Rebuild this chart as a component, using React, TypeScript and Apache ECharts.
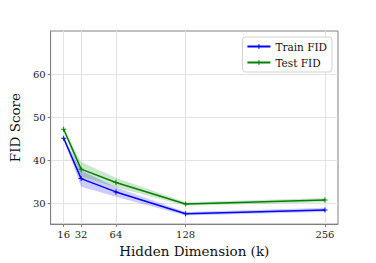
import React, { useEffect, useRef } from "react";
import * as echarts from "echarts";

const dims = [16, 32, 64, 128, 256];
const trainFid = [45.1, 35.7, 32.6, 27.5, 28.4];
const trainLo = [44.8, 33.8, 31.5, 27.1, 27.9];
const trainHi = [45.4, 37.6, 33.7, 27.9, 28.9];
const testFid = [47.2, 37.9, 34.8, 29.8, 30.7];
const testLo = [46.9, 36.2, 33.7, 29.4, 30.2];
const testHi = [47.5, 39.6, 35.9, 30.2, 31.2];
const xTicks = [16, 32, 64, 128, 256];
const yTicks = [30, 40, 50, 60];

const FONT = "DejaVu Serif";
const plus = "path://M4,0h2v4h4v2h-4v4h-2v-4h-4v-2h4z";

export default function App() {
  const ref = useRef<HTMLDivElement>(null);
  useEffect(() => {
    const chart = echarts.init(ref.current!, undefined, { renderer: "svg" });
    const band = (name: string, lo: number[], hi: number[], color: string) => ({
      type: "custom",
      name: name + "_band",
      silent: true,
      z: 1,
      data: dims.map((d, i) => [d, lo[i], hi[i]]),
      renderItem: (params: any, api: any) => {
        if (params.dataIndexInside !== 0) return null;
        const n = params.dataInsideLength;
        const upper: number[][] = [];
        const lower: number[][] = [];
        for (let k = 0; k < n; k++) {
          const x = api.value(0, k);
          upper.push(api.coord([x, api.value(2, k)]));
          lower.push(api.coord([x, api.value(1, k)]));
        }
        return {
          type: "polygon",
          shape: { points: upper.concat(lower.reverse()) },
          style: { fill: color, opacity: 0.2, stroke: "none" },
        };
      },
    });
    chart.setOption({
      animation: false,
      backgroundColor: "#fff",
      grid: { left: 47, right: 38, top: 31, bottom: 33, show: true, borderColor: "#808080", borderWidth: 1 },
      legend: {
        data: ["Train FID", "Test FID"],
        orient: "vertical",
        right: 44,
        top: 37,
        z: 10,
        itemWidth: 23,
        itemHeight: 6,
        itemGap: 5,
        padding: [4, 5, 4, 4],
        borderColor: "#d0d0d0",
        borderWidth: 1,
        borderRadius: 3,
        backgroundColor: "#fff",
        textStyle: { fontFamily: FONT, fontSize: 10.5, color: "#111" },
      },
      xAxis: {
        type: "value",
        min: 4,
        max: 268,
        name: "Hidden Dimension (k)",
        nameLocation: "middle",
        nameGap: 19,
        nameTextStyle: { fontFamily: FONT, fontSize: 13.5, color: "#111" },
        axisLine: { show: true, onZero: false, lineStyle: { color: "#808080" } },
        axisTick: { show: true, customValues: xTicks, length: 3, lineStyle: { color: "#808080" } },
        axisLabel: { customValues: xTicks, fontFamily: FONT, fontSize: 10, color: "#222", margin: 5 },
        splitLine: { show: false },
      },
      yAxis: {
        type: "value",
        min: 25.1,
        max: 70.1,
        name: "FID Score",
        nameLocation: "middle",
        nameGap: 20,
        nameTextStyle: { fontFamily: FONT, fontSize: 13.5, color: "#111" },
        axisLine: { show: true, lineStyle: { color: "#808080" } },
        axisTick: { show: true, customValues: yTicks, length: 3, lineStyle: { color: "#808080" } },
        axisLabel: { customValues: yTicks, fontFamily: FONT, fontSize: 10, color: "#222", margin: 5 },
        splitLine: { show: false },
      },
      series: [
        {
          type: "line",
          name: "grid",
          data: [],
          silent: true,
          z: 0,
          markLine: {
            silent: true,
            z: 0,
            symbol: "none",
            label: { show: false },
            lineStyle: { color: "#e3e3e3", width: 1, type: "solid" },
            data: [
              ...xTicks.map((v) => ({ xAxis: v })),
              ...yTicks.map((v) => ({ yAxis: v })),
            ],
          },
        },
        band("train", trainLo, trainHi, "#0000ff"),
        band("test", testLo, testHi, "#008000"),
        {
          type: "line",
          name: "Train FID",
          data: dims.map((d, i) => [d, trainFid[i]]),
          color: "#0000ff",
          lineStyle: { width: 1.5, color: "#0000ff" },
          symbol: plus,
          symbolSize: 5,
          itemStyle: { color: "#0000ff" },
          z: 3,
        },
        {
          type: "line",
          name: "Test FID",
          data: dims.map((d, i) => [d, testFid[i]]),
          color: "#008000",
          lineStyle: { width: 1.5, color: "#008000" },
          symbol: plus,
          symbolSize: 5,
          itemStyle: { color: "#008000" },
          z: 3,
        },
      ],
    });
    return () => chart.dispose();
  }, []);
  return (
    <div
      ref={ref}
      style={{ position: "fixed", left: 0, top: 0, width: 376, height: 263 }}
    />
  );
}
